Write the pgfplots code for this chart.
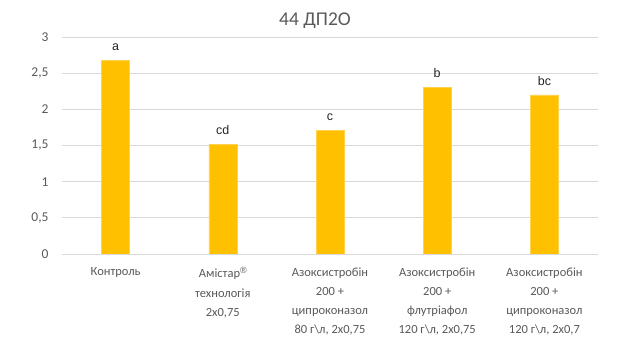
\documentclass[border=0pt]{standalone}
\usepackage{fontspec}
\setmainfont{Carlito}
\newfontfamily\arialf{Liberation Sans}
\usepackage{pgfplots}
\pgfplotsset{compat=1.18}
\definecolor{bargold}{HTML}{FFC000}
\definecolor{baredge}{HTML}{FFD34F}
\definecolor{txtgray}{HTML}{595959}
\definecolor{gridgray}{HTML}{D9D9D9}
\begin{document}
\begin{tikzpicture}[x=1pt,y=1pt]
\useasboundingbox (0,0) rectangle (629,355);
\node[text=txtgray, font=\fontsize{19.5}{22}\selectfont] at (315,334) {44 ДП2О};
\begin{axis}[
  at={(62pt,101pt)}, anchor=south west,
  scale only axis, width=536pt, height=217pt,
  xmin=-0.5, xmax=4.5, ymin=0, ymax=3,
  ytick={0,0.5,...,3},
  /pgf/number format/assume math mode=true,
  /pgf/number format/use comma,
  yticklabel style={text=txtgray, font=\fontsize{13.5}{15}\selectfont, xshift=-10pt},
  ymajorgrids, grid style={gridgray, line width=0.75pt},
  axis line style={draw=none},
  major tick length=0pt,
  xtick=data,
  xticklabels={
    {Контроль},
    {Амістар{\arialf\fontsize{9}{9}\selectfont\raisebox{4pt}{\symbol{"00AE}}}\\технологія\\2х0,75},
    {Азоксистробін\\200 +\\ципроконазол\\80 г\textbackslash л, 2х0,75},
    {Азоксистробін\\200 +\\флутріафол\\120 г\textbackslash л, 2х0,75},
    {Азоксистробін\\200 +\\ципроконазол\\120 г\textbackslash л, 2х0,7}},
  xticklabel style={text=txtgray, font=\fontsize{12.5}{19.2}\selectfont, align=center, yshift=-10pt},
  nodes near coords,
  point meta=explicit symbolic,
  nodes near coords style={font=\arialf\fontsize{12.5}{14}\selectfont, text=black!85, yshift=6pt},
]
\addplot[ybar, bar width=28pt, fill=bargold, draw=baredge, line width=0.6pt]
  table[meta=lab] {
  x y lab
  0 2.68 a
  1 1.52 cd
  2 1.71 c
  3 2.30 b
  4 2.20 bc
  };
\end{axis}
\end{tikzpicture}
\end{document}
